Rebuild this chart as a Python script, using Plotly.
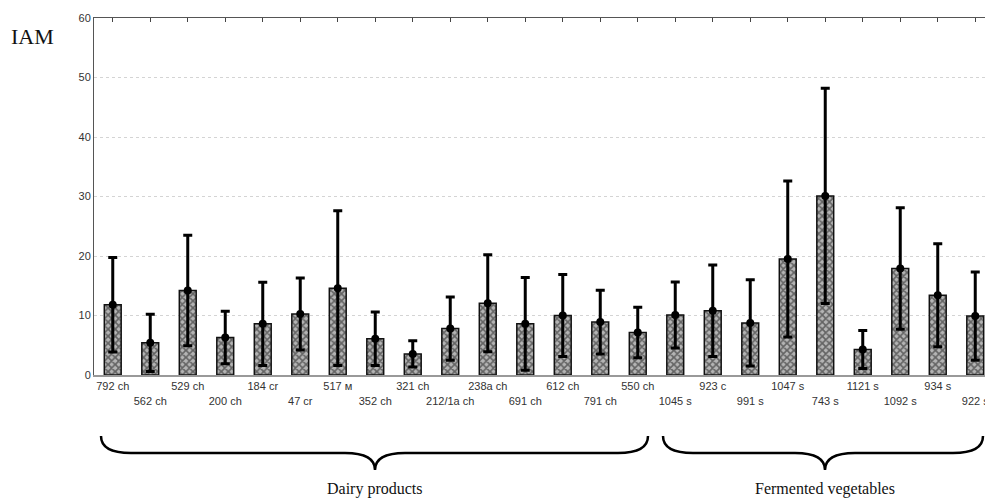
import plotly.graph_objects as go

labels = ["792 ch", "562 ch", "529 ch", "200 ch", "184 cr", "47 cr", "517 м", "352 ch",
          "321 ch", "212/1a ch", "238a ch", "691 ch", "612 ch", "791 ch", "550 ch",
          "1045 s", "923 c", "991 s", "1047 s", "743 s", "1121 s", "1092 s", "934 s", "922 s"]
means = [11.8, 5.4, 14.2, 6.3, 8.6, 10.25, 14.6, 6.1, 3.55, 7.8, 12.05, 8.6, 10.0, 8.9,
         7.15, 10.1, 10.8, 8.75, 19.5, 30.1, 4.3, 17.9, 13.4, 9.9]
errs = [7.95, 4.8, 9.3, 4.4, 7.0, 6.05, 13.0, 4.5, 2.2, 5.3, 8.15, 7.8, 6.9, 5.35,
        4.25, 5.55, 7.7, 7.25, 13.1, 18.1, 3.2, 10.2, 8.65, 7.4]
y_ticks = [0, 10, 20, 30, 40, 50, 60]
groups = ["Dairy products", "Fermented vegetables"]

W, H = 985, 504
L, R, T, B = 94, 0, 18, 129
PW, PH = W - L - R, H - T - B

def fx(px):
    return (px - L) / PW

def fy(py):
    return (H - B - py) / PH

idx = list(range(len(labels)))
ticktext = [lab if i % 2 == 0 else "<br>" + lab for i, lab in enumerate(labels)]

fig = go.Figure()
fig.add_trace(go.Bar(
    x=idx, y=means, width=0.45,
    marker=dict(color="#b4b4b4", line=dict(color="#111", width=1.5),
                pattern=dict(shape="x", fgcolor="#111", bgcolor="#b4b4b4", size=5, solidity=0.55)),
    error_y=dict(type="data", array=errs, visible=True, color="#000", thickness=3, width=4.5),
    showlegend=False, hoverinfo="skip", cliponaxis=True,
))
fig.add_trace(go.Scatter(
    x=idx, y=means, mode="markers",
    marker=dict(color="#000", size=8), showlegend=False, hoverinfo="skip",
))

# braces
def brace(x0, xm, x1, ytop, yflat, ytip, r=30):
    pts = [
        f"M{fx(x0)},{fy(ytop)}",
        f"Q{fx(x0)},{fy(yflat)} {fx(x0 + r)},{fy(yflat)}",
        f"L{fx(xm - r)},{fy(yflat)}",
        f"Q{fx(xm)},{fy(yflat)} {fx(xm)},{fy(ytip)}",
        f"Q{fx(xm)},{fy(yflat)} {fx(xm + r)},{fy(yflat)}",
        f"L{fx(x1 - r)},{fy(yflat)}",
        f"Q{fx(x1)},{fy(yflat)} {fx(x1)},{fy(ytop)}",
    ]
    return " ".join(pts)

for (x0, xm, x1), name in zip([(101, 375, 648), (663, 825, 983)], groups):
    fig.add_shape(type="path", xref="paper", yref="paper",
                  path=brace(x0, xm, x1, 436, 453, 470),
                  line=dict(color="#000", width=2.5))
    fig.add_annotation(x=fx(xm), y=fy(489), xref="paper", yref="paper", text=name,
                       showarrow=False, xanchor="center", yanchor="middle",
                       font=dict(family="Liberation Serif", size=16, color="#111"))

fig.add_annotation(x=fx(32), y=fy(36), xref="paper", yref="paper", text="IAM",
                   showarrow=False, xanchor="center", yanchor="middle",
                   font=dict(family="Liberation Serif", size=22, color="#111"))

fig.update_layout(
    width=W, height=H, margin=dict(l=L, r=R, t=T, b=B, autoexpand=False),
    paper_bgcolor="white", plot_bgcolor="white",
    bargap=0.5,
    xaxis=dict(range=[-0.5, 23.26], tickmode="array", tickvals=idx, ticktext=ticktext,
               tickfont=dict(family="Liberation Sans", size=11, color="#333"),
               showgrid=False, zeroline=False, showline=True, linecolor="#999", linewidth=2,
               ticks="", tickangle=0, automargin=False, ticklabeloverflow="allow"),
    xaxis2=dict(range=[-0.5, 23.26], overlaying="x", side="top", tickmode="array",
                tickvals=idx, showticklabels=False, ticks="inside", ticklen=4,
                tickcolor="#444", showline=True, linecolor="#555", linewidth=1,
                showgrid=False, zeroline=False, automargin=False),
    yaxis=dict(range=[0, 60], tickmode="array", tickvals=y_ticks,
               tickfont=dict(family="Liberation Sans", size=11, color="#333"),
               showgrid=True, gridcolor="#d4d4d4", griddash="dot", gridwidth=1,
               zeroline=False, showline=True, linecolor="#555", linewidth=1, ticks="",
               automargin=False),
)
# dummy trace to activate top axis
fig.add_trace(go.Scatter(x=[0], y=[0], xaxis="x2", mode="markers",
                         marker=dict(opacity=0), showlegend=False, hoverinfo="skip"))

fig.write_html("out.html", config={"displayModeBar": False},
               post_script="document.body.style.margin='0';document.body.style.overflow='hidden';")
